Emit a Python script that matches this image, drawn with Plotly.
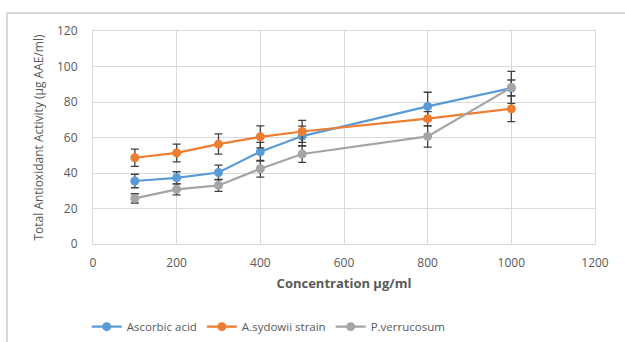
import plotly.graph_objects as go

conc = [100, 200, 300, 400, 500, 800, 1000]
ascorbic = [35.5, 37.3, 40.3, 52.0, 60.8, 77.5, 87.9]
ascorbic_err = [3.8, 3.4, 4.1, 5.3, 5.6, 8.0, 4.5]
sydowii = [48.6, 51.3, 56.3, 60.4, 63.4, 70.6, 76.2]
sydowii_err = [4.9, 5.0, 5.7, 6.2, 6.2, 4.0, 7.3]
verru = [25.7, 30.8, 33.0, 42.4, 50.7, 60.6, 88.2]
verru_err = [2.6, 3.1, 3.4, 4.7, 4.7, 6.0, 9.0]
names = ["Ascorbic acid", "A.sydowii strain", "P.verrucosum"]
colors = ["#5B9BD5", "#ED7D31", "#A5A5A5"]

fig = go.Figure()
for name, ys, es, c in zip(names, [ascorbic, sydowii, verru],
                           [ascorbic_err, sydowii_err, verru_err], colors):
    fig.add_trace(go.Scatter(
        x=conc, y=ys, name=name, mode="lines+markers",
        line=dict(color=c, width=2.2),
        marker=dict(color=c, size=9),
        error_y=dict(type="data", array=es, visible=True,
                     color="#404040", thickness=1.3, width=4),
    ))

font = "Open Sans, Liberation Sans, sans-serif"
axis_common = dict(showgrid=True, gridcolor="#D9D9D9", gridwidth=1,
                   showline=True, linecolor="#D9D9D9", linewidth=1, mirror=True,
                   zeroline=False, ticks="", automargin=False,
                   tickfont=dict(family=font, size=12, color="#595959"))
fig.update_layout(
    width=625, height=342,
    margin=dict(l=93, r=30, t=31, b=98, autoexpand=False),
    paper_bgcolor="white", plot_bgcolor="white",
    showlegend=True,
    legend=dict(orientation="h", x=0.35, xanchor="center", y=-0.32, yanchor="top",
                font=dict(family=font, size=11.5, color="#595959"),
                itemwidth=30, tracegroupgap=0),
    xaxis=dict(range=[0, 1200], dtick=200, ticklabelstandoff=8,
               title=dict(text="<b>Concentration µg/ml</b>", standoff=8,
                          font=dict(family=font, size=13, color="#595959")),
               **axis_common),
    yaxis=dict(range=[0, 120], dtick=20, ticklabelstandoff=12,
               title=dict(text="Total Antioxidant Activity (µg AAE/ml)", standoff=10,
                          font=dict(family=font, size=12, color="#595959")),
               **axis_common),
    shapes=[
        dict(type="line", xref="paper", yref="paper", x0=-0.1713, x1=1.07,
             y0=1.0845, y1=1.0845, line=dict(color="#CCCCCC", width=1.5)),
        dict(type="line", xref="paper", yref="paper", x0=-0.1713, x1=-0.1713,
             y0=1.0845, y1=-0.47, line=dict(color="#CCCCCC", width=1.5)),
    ],
)
fig.write_html("out.html", config={"displayModeBar": False},
               post_script="document.body.style.margin='0';")
